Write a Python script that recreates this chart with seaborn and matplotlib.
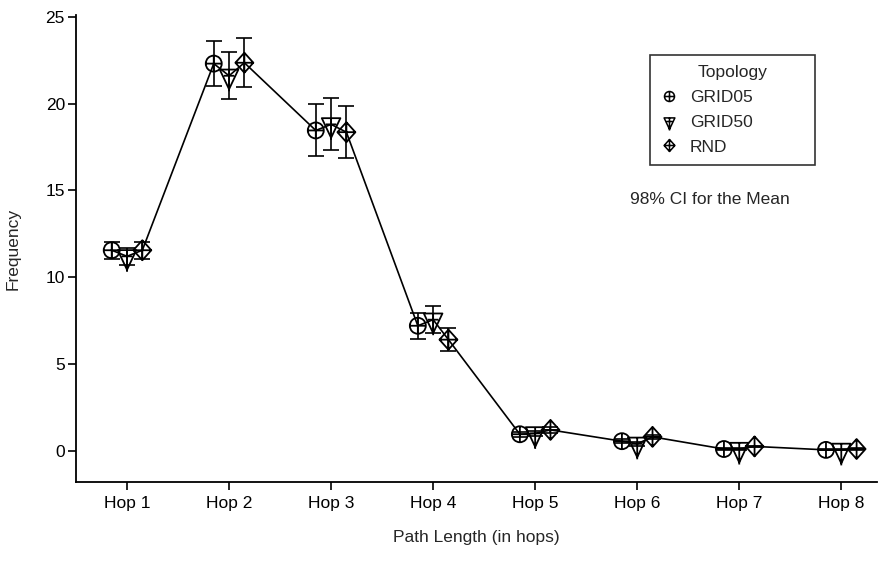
import numpy as np
import pandas as pd
import matplotlib
matplotlib.use("Agg")
import matplotlib.pyplot as plt
from matplotlib.path import Path
from matplotlib.lines import Line2D
import seaborn as sns

# ---- data ----
hops = ["Hop 1", "Hop 2", "Hop 3", "Hop 4", "Hop 5", "Hop 6", "Hop 7", "Hop 8"]
topologies = ["GRID05", "GRID50", "RND"]
grid05_mean = [11.55, 22.3, 18.45, 7.2, 0.95, 0.55, 0.1, 0.05]
grid50_mean = [11.2, 21.6, 18.8, 7.55, 1.0, 0.4, 0.1, 0.05]
rnd_mean = [11.55, 22.35, 18.35, 6.4, 1.2, 0.8, 0.25, 0.1]
grid05_ci = [0.5, 1.3, 1.5, 0.75, 0.15, 0.1, 0.05, 0.03]
grid50_ci = [0.5, 1.35, 1.5, 0.77, 0.15, 0.1, 0.05, 0.03]
rnd_ci = [0.5, 1.4, 1.48, 0.68, 0.15, 0.1, 0.05, 0.03]

means = {"GRID05": grid05_mean, "GRID50": grid50_mean, "RND": rnd_mean}
cis = {"GRID05": grid05_ci, "GRID50": grid50_ci, "RND": rnd_ci}
offsets = {"GRID05": -0.15, "GRID50": 0.0, "RND": 0.15}

rows = []
for i, h in enumerate(hops):
    for t in topologies:
        rows.append({"hop": h, "pos": i + offsets[t], "topology": t,
                     "mean": means[t][i], "ci": cis[t][i]})
df = pd.DataFrame(rows)

# ---- markers ----
circ = Path.make_compound_path(
    Path.unit_circle(),
    Path([(-1, 0), (1, 0)], [Path.MOVETO, Path.LINETO]),
    Path([(0, -1), (0, 1)], [Path.MOVETO, Path.LINETO]))
tri = Path.make_compound_path(
    Path([(-9, 6), (9, 6), (0, -13), (-9, 6)],
         [Path.MOVETO, Path.LINETO, Path.LINETO, Path.CLOSEPOLY]),
    Path([(0, 6), (0, -15)], [Path.MOVETO, Path.LINETO]),
    Path([(-5, 0), (5, 0)], [Path.MOVETO, Path.LINETO]))
dia = Path.make_compound_path(
    Path([(0, 10), (9, 0), (0, -10), (-9, 0), (0, 10)],
         [Path.MOVETO, Path.LINETO, Path.LINETO, Path.LINETO, Path.CLOSEPOLY]),
    Path([(-9, 0), (9, 0)], [Path.MOVETO, Path.LINETO]),
    Path([(0, -10), (0, 10)], [Path.MOVETO, Path.LINETO]))
mk = {"GRID05": circ, "GRID50": tri, "RND": dia}
px = 72 / 100
msz = {"GRID05": 16 * px, "GRID50": 31 * px, "RND": 20 * px}
leg_msz = {"GRID05": 10 * px, "GRID50": 18 * px, "RND": 12 * px}

sns.set_theme(style="white")
plt.rcParams["font.family"] = ["Liberation Sans", "DejaVu Sans"]
FS = 12.5
plt.rcParams["font.size"] = FS

fig = plt.figure(figsize=(8.85, 5.76), dpi=100)
ax = fig.add_axes([76 / 885, 1 - 482 / 576, (877 - 76) / 885, (482 - 15) / 576])

sns.lineplot(data=df, x="pos", y="mean", sort=False, estimator=None,
             color="black", linewidth=1.2, ax=ax, zorder=2)
ax.errorbar(df["pos"], df["mean"], yerr=df["ci"], fmt="none",
            ecolor="black", elinewidth=1.2, capsize=6, capthick=1.2, zorder=3)
for t in topologies:
    sub = df[df["topology"] == t]
    sns.scatterplot(data=sub, x="pos", y="mean", marker=mk[t], s=msz[t] ** 2,
                    color="black", facecolor="none", edgecolor="black",
                    linewidth=1.3, ax=ax, zorder=4, legend=False)

ax.set_xlim(-0.5, 7.35)
ax.set_ylim(-1.8, 25.1)
ax.set_xticks(range(len(hops)))
ax.set_xticklabels(hops)
ax.set_yticks([0, 5, 10, 15, 20, 25])
ax.set_xlabel("Path Length (in hops)", fontsize=FS, labelpad=14)
ax.set_ylabel("Frequency", fontsize=FS, labelpad=18)
for s in ["top", "right"]:
    ax.spines[s].set_visible(False)
for s in ["left", "bottom"]:
    ax.spines[s].set_color("black")
    ax.spines[s].set_linewidth(1.3)
ax.tick_params(axis="both", which="both", direction="out", length=6, width=1.2,
               color="black", labelsize=FS, labelcolor="black", bottom=True, left=True)
ax.tick_params(axis="y", pad=2)
ax.tick_params(axis="x", pad=4)

handles = [Line2D([], [], linestyle="none", marker=mk[t], markersize=leg_msz[t],
                  markerfacecolor="none", markeredgecolor="black",
                  markeredgewidth=1.1) for t in topologies]
x0, y0, x1, y1 = 650, 55, 815, 175
leg = fig.legend(handles, topologies, title="Topology", loc="upper left",
                 bbox_to_anchor=(x0 / 885, 1 - y1 / 576, (x1 - x0) / 885, (y1 - y0) / 576),
                 mode="expand", frameon=True,
                 fancybox=False, edgecolor="black", fontsize=FS, title_fontsize=FS,
                 borderpad=0.6, labelspacing=0.55, handlelength=1.0,
                 handletextpad=0.7, borderaxespad=0)
leg.get_frame().set_linewidth(1.2)
fig.text(710 / 885, 1 - 200 / 576, "98% CI for the Mean", ha="center", va="center",
         fontsize=FS)

fig.savefig("out.png", dpi=100)
